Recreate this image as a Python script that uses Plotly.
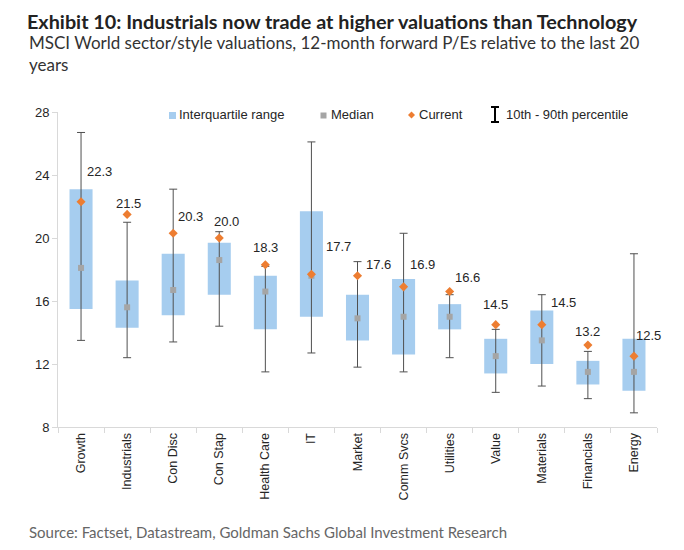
import plotly.graph_objects as go

categories = ["Growth", "Industrials", "Con Disc", "Con Stap", "Health Care", "IT", "Market",
              "Comm Svcs", "Utilities", "Value", "Materials", "Financials", "Energy"]
p10 = [13.5, 12.4, 13.4, 14.4, 11.5, 12.7, 11.8, 11.5, 12.4, 10.2, 10.6, 9.8, 8.9]
q1 = [15.5, 14.3, 15.1, 16.4, 14.2, 15.0, 13.5, 12.6, 14.2, 11.4, 12.0, 10.7, 10.3]
median = [18.1, 15.6, 16.7, 18.6, 16.6, 17.6, 14.9, 15.0, 15.0, 12.5, 13.5, 11.5, 11.5]
q3 = [23.1, 17.3, 19.0, 19.7, 17.6, 21.7, 16.4, 17.4, 15.8, 13.6, 15.4, 12.2, 13.6]
p90 = [26.7, 21.0, 23.1, 20.4, 18.2, 26.1, 18.5, 20.3, 16.4, 14.2, 16.4, 12.8, 19.0]
current = [22.3, 21.5, 20.3, 20.0, 18.3, 17.7, 17.6, 16.9, 16.6, 14.5, 14.5, 13.2, 12.5]

# label offsets (pixels) for the current-value labels
label_dx = [18, 1, 17, 7, 0, 27, 21, 19, 18, 0, 22, 0, 15]
label_dy = [30, 11, 17, 17, 17, 28, 11, 22, 14, 20, 22, 14, 21]

FONT = "Liberation Sans, Arial, sans-serif"
TXT = "#262626"
OFF = 8  # page body margin

fig = go.Figure()

fig.add_trace(go.Bar(
    x=categories, y=[b - a for a, b in zip(q1, q3)], base=q1,
    marker=dict(color="#a6cdef", line=dict(width=0)), width=0.5,
    name="Interquartile range", hoverinfo="skip"))

fig.add_trace(go.Scatter(
    x=categories, y=median, mode="markers",
    marker=dict(size=1, color="rgba(0,0,0,0)"),
    error_y=dict(type="data", symmetric=False,
                 array=[h - m for h, m in zip(p90, median)],
                 arrayminus=[m - l for m, l in zip(median, p10)],
                 color="#505050", thickness=1, width=4),
    name="10th - 90th percentile", hoverinfo="skip"))

fig.add_trace(go.Scatter(
    x=categories, y=median, mode="markers",
    marker=dict(symbol="square", size=6, color="#a5a5a5"),
    name="Median"))

fig.add_trace(go.Scatter(
    x=categories, y=current, mode="markers",
    marker=dict(symbol="diamond", size=7, color="#ed7d31"),
    name="Current"))

annotations = []
for c, v, dx, dy in zip(categories, current, label_dx, label_dy):
    annotations.append(dict(x=c, y=v, xref="x", yref="y", text=f"{v:.1f}",
                            showarrow=False, xshift=dx, yshift=dy,
                            font=dict(family=FONT, size=13, color=TXT)))

# paper coords of plot area: x 58..657 px, y 112..427 px (page pixels)
def px_x(px):
    return (px - 58) / 599.0

def px_y(py):
    return (427 - py) / 315.0

leg_y = px_y(115)
for txt, xpx in [("Interquartile range", 177), ("Median", 329), ("Current", 417),
                 ("10th - 90th percentile", 504)]:
    annotations.append(dict(x=px_x(xpx), y=leg_y, xref="paper", yref="paper", text=txt,
                            showarrow=False, xanchor="left", yanchor="middle",
                            font=dict(family=FONT, size=13, color=TXT)))

annotations.append(dict(x=px_x(27), y=px_y(54), xref="paper", yref="paper",
                        text="MSCI World sector/style valuations, 12-month forward P/Es relative to the last 20<br>years",
                        showarrow=False, xanchor="left", yanchor="middle", align="left",
                        font=dict(family="Lato, sans-serif", size=17, color="#333333")))
annotations.append(dict(x=px_x(27), y=px_y(532), xref="paper", yref="paper",
                        text="Source: Factset, Datastream, Goldman Sachs Global Investment Research",
                        showarrow=False, xanchor="left", yanchor="middle",
                        font=dict(family="Lato, sans-serif", size=15, color="#666666")))

shapes = [
    dict(type="rect", xref="paper", yref="paper", x0=px_x(169), x1=px_x(176),
         y0=px_y(119), y1=px_y(112), fillcolor="#a6cdef", line=dict(width=0)),
    dict(type="rect", xref="paper", yref="paper", x0=px_x(320.5), x1=px_x(326.5),
         y0=px_y(118.5), y1=px_y(112.5), fillcolor="#a5a5a5", line=dict(width=0)),
    dict(type="path", xref="paper", yref="paper",
         path=f"M {px_x(411.5)} {px_y(111.5)} L {px_x(415)} {px_y(115)} L {px_x(411.5)} {px_y(118.5)} L {px_x(408)} {px_y(115)} Z",
         fillcolor="#ed7d31", line=dict(width=0)),
    dict(type="line", xref="paper", yref="paper", x0=px_x(495), x1=px_x(495),
         y0=px_y(106.5), y1=px_y(122.5), line=dict(color="#000000", width=2)),
    dict(type="line", xref="paper", yref="paper", x0=px_x(491), x1=px_x(499),
         y0=px_y(107), y1=px_y(107), line=dict(color="#000000", width=2)),
    dict(type="line", xref="paper", yref="paper", x0=px_x(491), x1=px_x(499),
         y0=px_y(122), y1=px_y(122), line=dict(color="#000000", width=2)),
]

W, H = 684 - OFF, 550 - OFF
fig.update_layout(
    width=W, height=H,
    margin=dict(l=58 - OFF, r=W - (657 - OFF), t=112 - OFF, b=H - (427 - OFF)),
    paper_bgcolor="white", plot_bgcolor="white",
    showlegend=False,
    title=dict(text="<b>Exhibit 10: Industrials now trade at higher valuations than Technology</b>",
               x=(27 - OFF) / W, xanchor="left", xref="container",
               y=1 - (22 - OFF) / H, yanchor="middle", yref="container",
               font=dict(family="Lato, sans-serif", size=19.8, color="#222222")),
    annotations=annotations,
    shapes=shapes,
    xaxis=dict(type="category", tickangle=-90, showline=True, linecolor="#d9d9d9", linewidth=1,
               ticks="outside", tickson="boundaries", ticklen=5, tickcolor="#d9d9d9",
               showgrid=False, tickfont=dict(family=FONT, size=12.5, color=TXT),
               range=[-0.5, len(categories) - 0.5]),
    yaxis=dict(range=[8, 28], dtick=4, tick0=8, showline=True, linecolor="#d9d9d9", linewidth=1,
               ticks="outside", ticklen=5, tickcolor="#d9d9d9", showgrid=False, zeroline=False,
               tickfont=dict(family=FONT, size=13, color=TXT)),
    bargap=0.5,
)

fig.write_html("out.html")
